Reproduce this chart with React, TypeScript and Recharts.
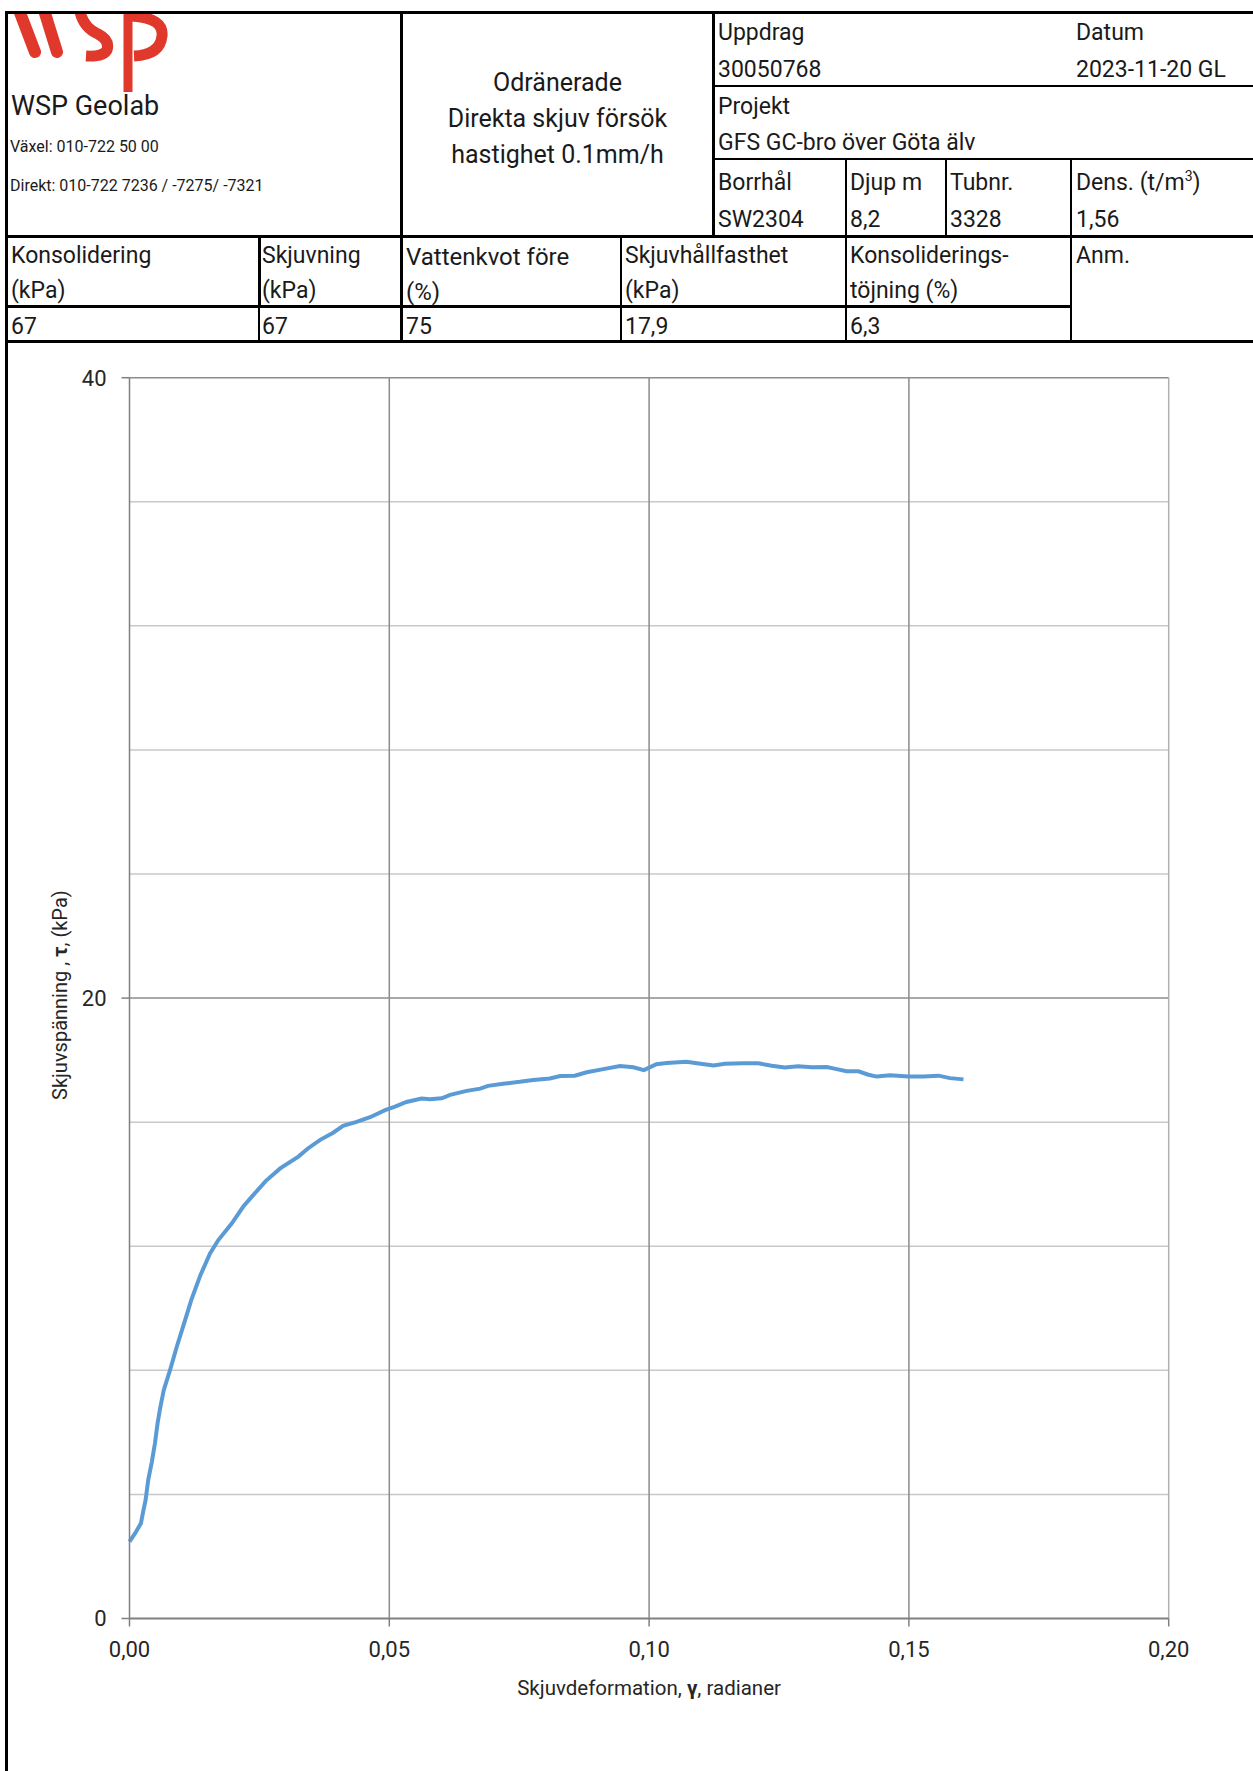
import React from "react";
import { Label, Line, LineChart, ReferenceLine, XAxis, YAxis } from "recharts";

// shear strain (radians) and shear stress (kPa)
const STRAIN = [
  0.0, 0.0011, 0.0022, 0.0027, 0.0031, 0.0036, 0.0043, 0.0049, 0.0054, 0.0059,
  0.0066, 0.0078, 0.0091, 0.0104, 0.0119, 0.0136, 0.0155, 0.0171, 0.0197, 0.0219,
  0.0238, 0.0262, 0.029, 0.0325, 0.0344, 0.0367, 0.0392, 0.0411, 0.0437, 0.0463,
  0.0492, 0.0511, 0.0533, 0.0562, 0.0578, 0.0601, 0.0617, 0.0649, 0.0675, 0.069,
  0.0719, 0.0751, 0.0777, 0.0809, 0.0829, 0.0857, 0.088, 0.0912, 0.0944, 0.097,
  0.099, 0.1014, 0.1034, 0.1072, 0.1092, 0.1124, 0.1146, 0.1181, 0.121, 0.1236,
  0.1261, 0.1287, 0.1313, 0.1342, 0.1361, 0.138, 0.1403, 0.1422, 0.1438, 0.1464,
  0.1499, 0.1528, 0.1557, 0.1579, 0.1605,
];
const STRESS = [
  2.48, 2.75, 3.07, 3.5, 3.82, 4.46, 5.05, 5.65, 6.29, 6.78,
  7.37, 8.01, 8.76, 9.46, 10.27, 11.05, 11.77, 12.2, 12.74, 13.28,
  13.65, 14.1, 14.51, 14.89, 15.16, 15.43, 15.66, 15.88, 16.01, 16.16,
  16.39, 16.5, 16.65, 16.76, 16.74, 16.77, 16.88, 17.01, 17.08, 17.17,
  17.24, 17.3, 17.36, 17.41, 17.49, 17.5, 17.61, 17.71, 17.81, 17.77,
  17.68, 17.87, 17.91, 17.95, 17.9, 17.83, 17.88, 17.9, 17.9, 17.82,
  17.76, 17.8, 17.77, 17.78, 17.71, 17.64, 17.64, 17.53, 17.47, 17.51,
  17.47, 17.47, 17.5, 17.42, 17.38,
];

const X_TICKS = [0, 0.05, 0.1, 0.15, 0.2];
const Y_TICKS = [0, 20, 40];
const Y_MINOR = [4, 8, 12, 16, 24, 28, 32, 36];
const Y_MAJOR = [20, 40];
const X_MAJOR = [0.05, 0.1, 0.15];

const data = STRAIN.map((x, i) => ({ x, y: STRESS[i] }));

const FONT = "Roboto, 'Noto Sans', sans-serif";
const INK = "#1a1a1a";
const LINE_BLUE = "#5b9bd5";
const GRID_DARK = "#8c8c8c";
const GRID_LIGHT = "#c8c8c8";

function HLine({ x1, x2, y, w = 3 }: { x1: number; x2: number; y: number; w?: number }) {
  return (
    <div
      style={{ position: "absolute", left: x1, top: y - w / 2, width: x2 - x1, height: w, background: "#000" }}
    />
  );
}

function VLine({ y1, y2, x, w = 3 }: { y1: number; y2: number; x: number; w?: number }) {
  return (
    <div
      style={{ position: "absolute", left: x - w / 2, top: y1, width: w, height: y2 - y1, background: "#000" }}
    />
  );
}

function T({
  x,
  y,
  size = 23,
  weight = 400,
  children,
}: {
  x: number;
  y: number;
  size?: number;
  weight?: number;
  children: React.ReactNode;
}) {
  // y is the vertical centre of the text line
  return (
    <div
      style={{
        position: "absolute",
        left: x,
        top: y - 15 + 1.5,
        height: 30,
        lineHeight: "30px",
        fontSize: size,
        fontWeight: weight,
        color: INK,
        whiteSpace: "nowrap",
      }}
    >
      {children}
    </div>
  );
}

function Logo() {
  return (
    <svg
      width={170}
      height={84}
      style={{ position: "absolute", left: 8, top: 13 }}
      viewBox="8 13 170 84"
    >
      <g stroke="#e0382b" strokeWidth={12} fill="none" strokeLinecap="round">
        <path d="M19 10 L35 52" />
        <path d="M44 10 L57 52" />
        <path d="M80 12 Q84 28 98 34 Q110 40 107 50 Q103 57 86 56" strokeWidth={11} strokeLinecap="butt" />
        <path d="M128 14 L128 92" strokeWidth={9} strokeLinecap="butt" />
        <path d="M132 16 Q164 18 162 36 Q160 55 134 56" strokeWidth={11} strokeLinecap="butt" />
      </g>
    </svg>
  );
}

function fmtX(v: number) {
  return v.toFixed(2).replace(".", ",");
}

export default function App() {
  return (
    <div
      style={{
        position: "absolute",
        left: 0,
        top: 0,
        width: 1253,
        height: 1771,
        background: "#fff",
        overflow: "hidden",
        fontFamily: FONT,
      }}
    >
      <Logo />

      {/* frame and table rules */}
      <HLine x1={5} x2={1253} y={12.5} />
      <VLine x={6.5} y1={11} y2={1771} />
      <VLine x={401} y1={11} y2={341} />
      <VLine x={713} y1={11} y2={236} />
      <HLine x1={713} x2={1253} y={86} w={2} />
      <HLine x1={713} x2={1253} y={159} w={2} />
      <VLine x={846} y1={159} y2={341} w={2} />
      <VLine x={946} y1={159} y2={236} w={2} />
      <VLine x={1071} y1={159} y2={341} w={2} />
      <HLine x1={5} x2={1253} y={236} />
      <VLine x={259} y1={236} y2={306} />
      <VLine x={259} y1={306} y2={341} w={2} />
      <VLine x={621} y1={236} y2={341} w={2} />
      <HLine x1={5} x2={1071} y={306} />
      <HLine x1={5} x2={1253} y={341} />

      {/* left block */}
      <T x={11} y={104} size={27}>WSP Geolab</T>
      <T x={10} y={145} size={16}>Växel: 010-722 50 00</T>
      <T x={10} y={184} size={16}>Direkt: 010-722 7236 / -7275/ -7321</T>

      {/* title block */}
      <div
        style={{
          position: "absolute",
          left: 403,
          width: 309,
          top: 65,
          textAlign: "center",
          fontSize: 25,
          lineHeight: "36px",
          color: INK,
        }}
      >
        Odränerade
        <br />
        Direkta skjuv försök
        <br />
        hastighet 0.1mm/h
      </div>

      {/* right block */}
      <T x={718} y={31}>Uppdrag</T>
      <T x={718} y={68}>30050768</T>
      <T x={1076} y={31}>Datum</T>
      <T x={1076} y={68}>2023-11-20 GL</T>
      <T x={718} y={105}>Projekt</T>
      <T x={718} y={141}>GFS GC-bro över Göta älv</T>
      <T x={718} y={181}>Borrhål</T>
      <T x={718} y={218}>SW2304</T>
      <T x={850} y={181}>Djup m</T>
      <T x={850} y={218}>8,2</T>
      <T x={950} y={181}>Tubnr.</T>
      <T x={950} y={218}>3328</T>
      <T x={1076} y={181}>
        Dens. (t/m<sup style={{ fontSize: 14, lineHeight: 0 }}>3</sup>)
      </T>
      <T x={1076} y={218}>1,56</T>

      {/* parameter table */}
      <T x={11} y={254}>Konsolidering</T>
      <T x={11} y={289}>(kPa)</T>
      <T x={11} y={325}>67</T>
      <T x={262} y={254}>Skjuvning</T>
      <T x={262} y={289}>(kPa)</T>
      <T x={262} y={325}>67</T>
      <T x={406} y={255} size={24}>Vattenkvot före</T>
      <T x={406} y={290} size={24}>(%)</T>
      <T x={406} y={325}>75</T>
      <T x={625} y={254}>Skjuvhållfasthet</T>
      <T x={625} y={289}>(kPa)</T>
      <T x={625} y={325}>17,9</T>
      <T x={850} y={254}>Konsoliderings-</T>
      <T x={850} y={289}>töjning (%)</T>
      <T x={850} y={325}>6,3</T>
      <T x={1076} y={254}>Anm.</T>

      <div style={{ position: "absolute", left: 0, top: 341 }}>
        <LineChart
          width={1253}
          height={1430}
          data={data}
          margin={{ top: 36.7, right: 84.3, bottom: 0, left: 0 }}
        >
          {Y_MINOR.map((v) => (
            <ReferenceLine key={`ym${v}`} y={v} stroke={GRID_LIGHT} strokeWidth={1.5} />
          ))}
          {Y_MAJOR.map((v) => (
            <ReferenceLine key={`yM${v}`} y={v} stroke={GRID_DARK} strokeWidth={1.5} />
          ))}
          {X_MAJOR.map((v) => (
            <ReferenceLine key={`xM${v}`} x={v} stroke={GRID_DARK} strokeWidth={1.5} />
          ))}
          <ReferenceLine x={0.2} stroke="#b0b0b0" strokeWidth={1.5} />
          <XAxis
            type="number"
            dataKey="x"
            domain={[0, 0.2]}
            ticks={X_TICKS}
            interval={0}
            tickFormatter={fmtX}
            height={152.5}
            tickSize={8}
            tickMargin={15}
            stroke="#808080"
            axisLine={{ stroke: "#808080", strokeWidth: 2 }}
            tickLine={{ stroke: "#808080", strokeWidth: 1.5 }}
            tick={{ fill: "#262626", fontSize: 22, fontFamily: FONT }}
          >
            <Label
              content={({ viewBox }: any) => (
                <text
                  x={viewBox.x + viewBox.width / 2}
                  y={1688 - 341}
                  textAnchor="middle"
                  dominantBaseline="central"
                  fontSize={20.5}
                  fontFamily={FONT}
                  fill="#262626"
                >
                  Skjuvdeformation, <tspan fontWeight="bold">γ</tspan>, radianer
                </text>
              )}
            />
          </XAxis>
          <YAxis
            type="number"
            domain={[0, 40]}
            ticks={Y_TICKS}
            interval={0}
            width={129.5}
            tickSize={8}
            tickMargin={15}
            axisLine={{ stroke: "#808080", strokeWidth: 1.5 }}
            tickLine={{ stroke: "#808080", strokeWidth: 1.5 }}
            tick={{ fill: "#262626", fontSize: 22, fontFamily: FONT }}
          >
            <Label
              content={({ viewBox }: any) => {
                const cy = viewBox.y + viewBox.height / 2 - 3;
                return (
                  <text
                    x={60}
                    y={cy}
                    transform={`rotate(-90, 60, ${cy})`}
                    textAnchor="middle"
                    dominantBaseline="central"
                    fontSize={20}
                    fontFamily={FONT}
                    fill="#262626"
                  >
                    Skjuvspänning , <tspan fontWeight="bold">τ</tspan>, (kPa)
                  </text>
                );
              }}
            />
          </YAxis>
          <Line
            type="linear"
            dataKey="y"
            stroke={LINE_BLUE}
            strokeWidth={4}
            dot={false}
            isAnimationActive={false}
          />
        </LineChart>
      </div>
    </div>
  );
}
